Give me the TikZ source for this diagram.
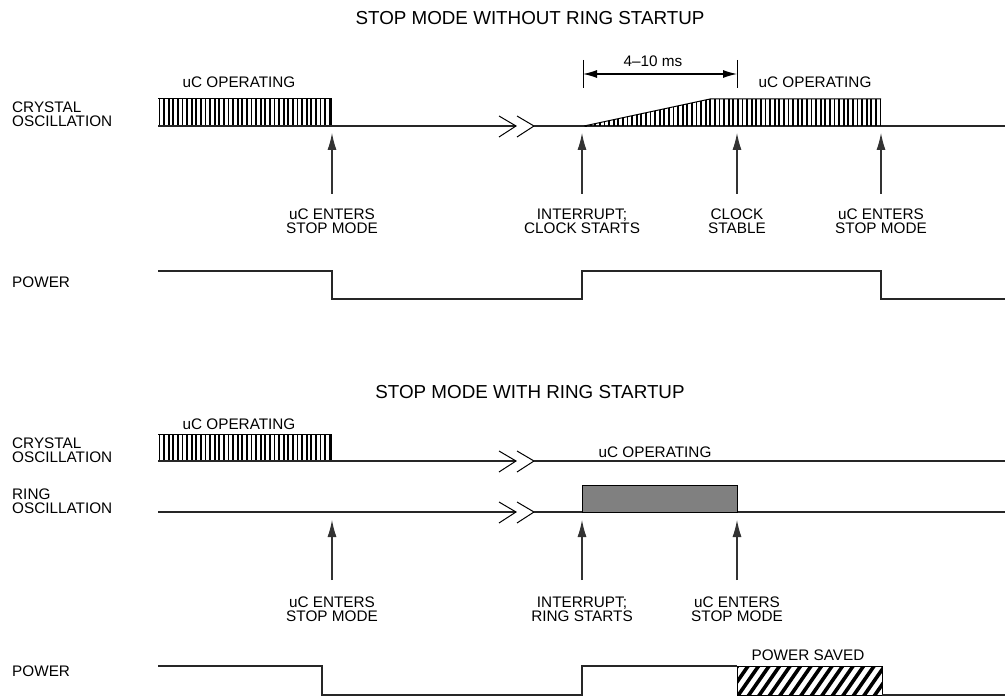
\documentclass[tikz,border=0pt]{standalone}
\usepackage{fontspec}
\setmainfont{Liberation Sans}
\usetikzlibrary{arrows.meta}
\begin{document}
\begin{tikzpicture}[x=1pt,y=-1pt,
  lbl/.style={font=\fontsize{15.3}{14}\selectfont,align=center,inner sep=0pt},
  sidelbl/.style={font=\fontsize{15.3}{14}\selectfont,align=left,inner sep=0pt,anchor=west},
  ttl/.style={font=\fontsize{18.8}{18.8}\selectfont,inner sep=0pt},
  sig/.style={line width=1.2pt,draw=black!85},
  stripe/.style={line width=1.8pt},
  evarrow/.style={line width=1.1pt,draw=black!80,-{Latex[length=17pt,width=9pt]}},
  dimarrow/.style={line width=1.1pt,{Latex[length=14pt,width=8pt]}-{Latex[length=14pt,width=8pt]}},
  chev/.style={line width=1pt}]
\useasboundingbox (0,0) rectangle (1005,698);

% ---------------- Section 1 ----------------
\node[ttl] (t1) at (530,18) {STOP MODE WITHOUT RING STARTUP};
\node[lbl] (op1) at (239,82) {uC OPERATING};
\node[sidelbl] (cry1) at (12,114.5) {CRYSTAL\\OSCILLATION};
\node[sidelbl] (pw1) at (12,282) {POWER};

% hatched block
\foreach \i in {0,...,37} \draw[stripe] ({159.5+\i*4.6},99) -- ++(0,27);
\draw[line width=1pt] (158,99) -- (332,99) (158,126) -- (332,126);
\draw[line width=1.5pt] (331.5,99) -- (331.5,126);
% crystal line
\draw[sig] (158,126) -- (516,126);
\draw[chev] (499,116) -- (516,126) -- (499,137);
\draw[chev] (517,116) -- (534,126) -- (517,137);
\draw[sig] (534,126) -- (1005,126);
% ramp + operating block
\foreach \i in {0,...,64} {
  \pgfmathsetmacro\xx{586+\i*4.6}
  \pgfmathsetmacro\hh{min(27,(\xx-584)*27/126)}
  \draw[stripe] (\xx,126) -- ++(0,-\hh);
}
\draw[line width=1pt] (584,126) -- (710,99) -- (881,99);
\draw[line width=1.5pt] (880.5,99) -- (880.5,126);
\node[lbl] (op1b) at (815,82) {uC OPERATING};
% dimension
\coordinate (d1) at (583,60); \coordinate (d1b) at (583,88);
\coordinate (d2) at (737,60); \coordinate (d2b) at (737,88);
\draw[line width=1pt] (d1) -- (d1b);
\draw[line width=1pt] (d2) -- (d2b);
\coordinate (da) at (583,74); \coordinate (db) at (737,74);
\draw[dimarrow] (da) -- (db);
\node[lbl] (dim) at (653,61) {4–10 ms};

% event arrows
\foreach \x/\n in {332/a,582/b,737/c,881/d} {
  \coordinate (e1\n b) at (\x,194);
  \coordinate (e1\n t) at (\x,133);
  \draw[evarrow] (e1\n b) -- (e1\n t);
}
\node[lbl] (l1a) at (332,221) {uC ENTERS\\STOP MODE};
\node[lbl] (l1b) at (582,221) {INTERRUPT;\\CLOCK STARTS};
\node[lbl] (l1c) at (737,221) {CLOCK\\STABLE};
\node[lbl] (l1d) at (881,221) {uC ENTERS\\STOP MODE};

% power 1
\draw[sig] (158,271) -- (332,271) -- (332,299) -- (582,299) -- (582,271)
  -- (881,271) -- (881,299) -- (1005,299);

% ---------------- Section 2 ----------------
\node[ttl] (t2) at (530,392) {STOP MODE WITH RING STARTUP};
\node[lbl] (op2) at (239,424) {uC OPERATING};
\node[sidelbl] (cry2) at (12,450) {CRYSTAL\\OSCILLATION};
\node[sidelbl] (ring2) at (12,501) {RING\\OSCILLATION};
\node[sidelbl] (pw2) at (12,671) {POWER};

\foreach \i in {0,...,37} \draw[stripe] ({159.5+\i*4.6},434) -- ++(0,27);
\draw[line width=1pt] (158,434) -- (332,434) (158,461) -- (332,461);
\draw[line width=1.5pt] (331.5,434) -- (331.5,461);
\draw[sig] (158,461) -- (516,461);
\draw[chev] (499,451) -- (516,461) -- (499,472);
\draw[chev] (517,451) -- (534,461) -- (517,472);
\draw[sig] (534,461) -- (1005,461);
\node[lbl] (op2b) at (655,452) {uC OPERATING};

% ring
\draw[sig] (158,512) -- (516,512);
\draw[chev] (499,502) -- (516,512) -- (499,523);
\draw[chev] (517,502) -- (534,512) -- (517,523);
\draw[sig] (534,512) -- (1005,512);
\draw[line width=1pt,fill=black!50] (582,485) rectangle (737,512);

\foreach \x/\n in {332/a,582/b,737/c} {
  \coordinate (e2\n b) at (\x,580);
  \coordinate (e2\n t) at (\x,520);
  \draw[evarrow] (e2\n b) -- (e2\n t);
}
\node[lbl] (l2a) at (332,609) {uC ENTERS\\STOP MODE};
\node[lbl] (l2b) at (582,609) {INTERRUPT;\\RING STARTS};
\node[lbl] (l2c) at (737,609) {uC ENTERS\\STOP MODE};

% power 2
\draw[sig] (158,666) -- (322,666) -- (322,695) -- (582,695) -- (582,666) -- (737,666);
\begin{scope}
  \clip (737,666) rectangle (882,695);
  \foreach \i in {-4,...,15} \draw[line width=3.6pt] ({737+\i*10.5},697) -- ++(23,-33);
\end{scope}
\draw[line width=1pt] (737,666) rectangle (882,695);
\draw[sig] (882,695) -- (1005,695);
\node[lbl] (ps) at (808,655) {POWER SAVED};
\end{tikzpicture}
\end{document}
